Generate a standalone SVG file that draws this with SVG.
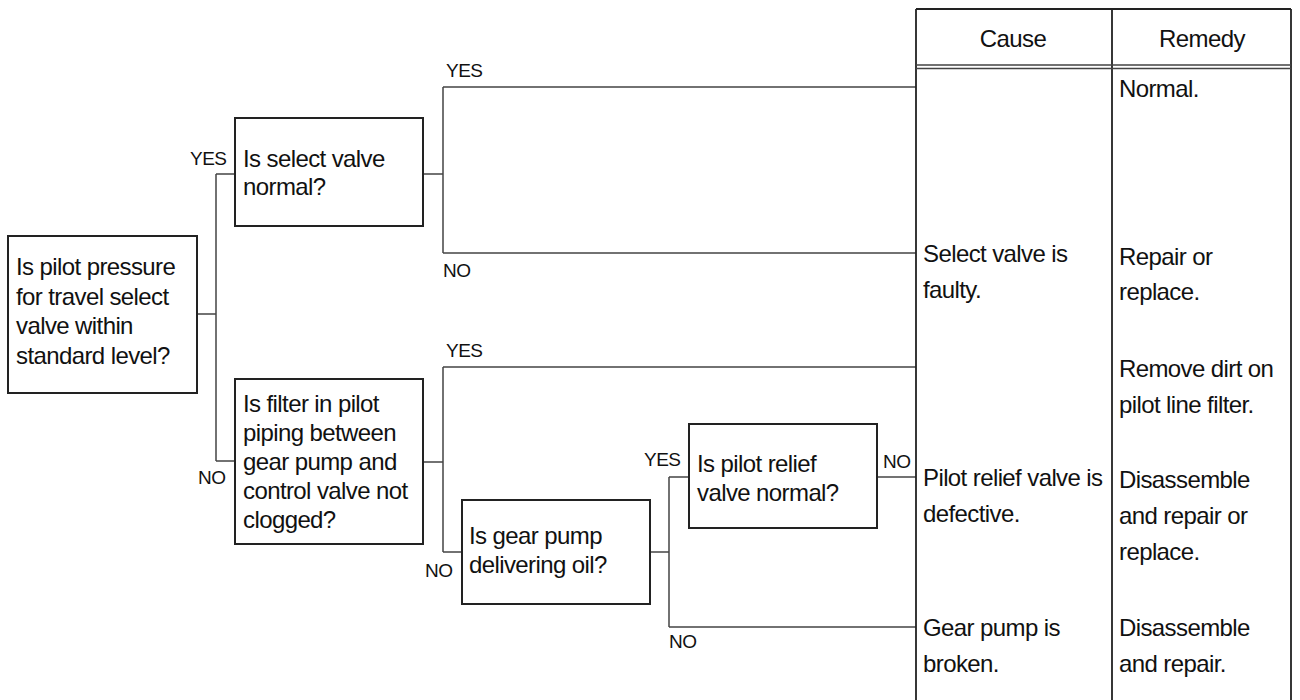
<svg xmlns="http://www.w3.org/2000/svg" width="1300" height="700" viewBox="0 0 1300 700">
<style>
  .box { fill: #fff; stroke: #222; stroke-width: 2; }
  .con { fill: none; stroke: #444; stroke-width: 1.5; }
  .tbl { fill: none; stroke: #222; stroke-width: 1.8; }
  .t { font-family: "Liberation Sans", Arial, sans-serif; font-size: 24px; letter-spacing: -0.6px; fill: #111; }
  .lbl { font-family: "Liberation Sans", Arial, sans-serif; font-size: 19px; letter-spacing: -0.5px; fill: #111; }
  .hd { text-anchor: middle; }
</style>
<rect width="1300" height="700" fill="#fff"/>

<g id="connectors">
  <path class="con" d="M197 314 H216 M216 174 V461 M216 174 H235 M216 461 H235"/>
  <path class="con" d="M423 174 H443 M443 87 V253 M443 87 H916 M443 253 H916"/>
  <path class="con" d="M423 462 H443 M443 367 V552 M443 367 H916 M443 552 H462"/>
  <path class="con" d="M650 552 H669 M669 477 V627 M669 477 H689 M669 627 H916"/>
  <path class="con" d="M877 477 H916"/>
  <text class="lbl" x="190" y="165">YES</text>
  <text class="lbl" x="198" y="484">NO</text>
  <text class="lbl" x="446" y="77">YES</text>
  <text class="lbl" x="443" y="277">NO</text>
  <text class="lbl" x="446" y="357">YES</text>
  <text class="lbl" x="425" y="577">NO</text>
  <text class="lbl" x="644" y="466">YES</text>
  <text class="lbl" x="883" y="468">NO</text>
  <text class="lbl" x="669" y="648">NO</text>
</g>

<g id="node-pilot-pressure">
  <rect class="box" x="8" y="236" width="189" height="157"/>
  <text class="t" x="16" y="275">Is pilot pressure</text>
  <text class="t" x="16" y="304.5">for travel select</text>
  <text class="t" x="16" y="334">valve within</text>
  <text class="t" x="16" y="363.5">standard level?</text>
</g>

<g id="node-select-valve">
  <rect class="box" x="235" y="118" width="188" height="108"/>
  <text class="t" x="243" y="167">Is select valve</text>
  <text class="t" x="243" y="195">normal?</text>
</g>

<g id="node-filter">
  <rect class="box" x="235" y="379" width="188" height="165"/>
  <text class="t" x="243" y="412">Is filter in pilot</text>
  <text class="t" x="243" y="441">piping between</text>
  <text class="t" x="243" y="470">gear pump and</text>
  <text class="t" x="243" y="499">control valve not</text>
  <text class="t" x="243" y="528">clogged?</text>
</g>

<g id="node-gear-pump">
  <rect class="box" x="462" y="500" width="188" height="104"/>
  <text class="t" x="469" y="544">Is gear pump</text>
  <text class="t" x="469" y="573">delivering oil?</text>
</g>

<g id="node-relief-valve">
  <rect class="box" x="689" y="424" width="188" height="104"/>
  <text class="t" x="697" y="472">Is pilot relief</text>
  <text class="t" x="697" y="501">valve normal?</text>
</g>

<g id="table">
  <path class="tbl" d="M916 9 H1291 M916 9 V700 M1112 9 V700 M1291 9 V700"/>
  <path class="con" d="M916 65 H1291 M916 68.5 H1291"/>
  <text class="t hd" x="1013" y="47">Cause</text>
  <text class="t hd" x="1202" y="47">Remedy</text>

  <text class="t" x="923" y="262">Select valve is</text>
  <text class="t" x="923" y="298">faulty.</text>
  <text class="t" x="923" y="486">Pilot relief valve is</text>
  <text class="t" x="923" y="522">defective.</text>
  <text class="t" x="923" y="636">Gear pump is</text>
  <text class="t" x="923" y="672">broken.</text>

  <text class="t" x="1119" y="97">Normal.</text>
  <text class="t" x="1119" y="265">Repair or</text>
  <text class="t" x="1119" y="300">replace.</text>
  <text class="t" x="1119" y="377">Remove dirt on</text>
  <text class="t" x="1119" y="413">pilot line filter.</text>
  <text class="t" x="1119" y="488">Disassemble</text>
  <text class="t" x="1119" y="524">and repair or</text>
  <text class="t" x="1119" y="560">replace.</text>
  <text class="t" x="1119" y="636">Disassemble</text>
  <text class="t" x="1119" y="672">and repair.</text>
</g>
</svg>
